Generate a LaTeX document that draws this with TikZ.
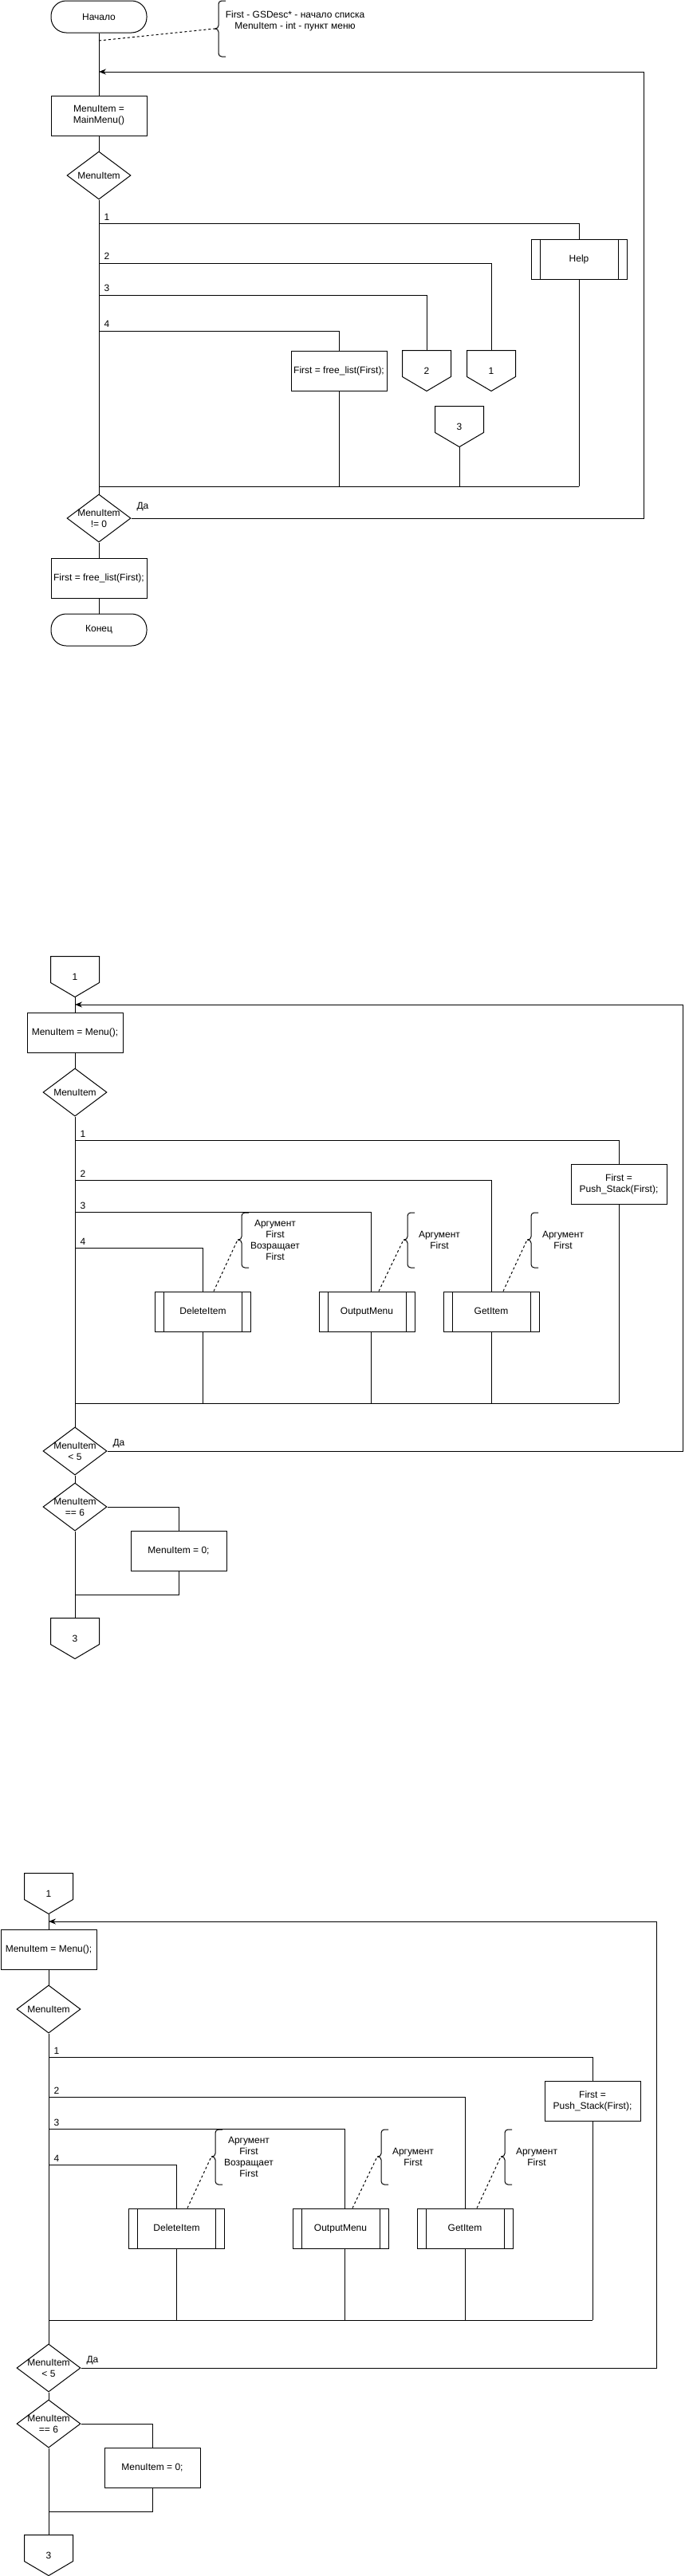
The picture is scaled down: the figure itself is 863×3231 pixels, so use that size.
\documentclass[tikz,border=0pt]{standalone}
\usepackage{fontspec}
\setmainfont{Liberation Sans}
\usetikzlibrary{calc}
\usetikzlibrary{arrows.meta}
\usetikzlibrary{shapes.geometric}

\tikzset{
  term/.style={draw, rectangle, rounded corners=19pt, minimum width=120pt, minimum height=40pt},
  proc/.style={draw, rectangle, minimum width=120pt, minimum height=50pt, inner sep=1pt, align=center},
  cond/.style={draw, diamond, aspect=1.333, minimum width=80pt, minimum height=60pt, inner sep=-8pt, align=center},
  subproc/.style={proc, text height=8.5pt, text depth=2.5pt, path picture={
      \draw ([xshift=11pt]path picture bounding box.north west) -- ([xshift=11pt]path picture bounding box.south west);
      \draw ([xshift=-11pt]path picture bounding box.north east) -- ([xshift=-11pt]path picture bounding box.south east);}},
  offpage/.style={rectangle, minimum width=60pt, minimum height=50pt, inner sep=0pt},
  notetext/.style={align=center, inner sep=0pt},
  lbl/.style={anchor=west, inner sep=0pt},
  arr/.style={-{Stealth[length=9pt,width=7pt]}},
  anno/.style={dash pattern=on 3pt off 3pt},
}
\newcommand{\offpagebox}[1]{\draw (#1.north west) -- (#1.north east) -- ([yshift=18pt]#1.south east) -- (#1.south) -- ([yshift=18pt]#1.south west) -- cycle;}
% spine x, top, bottom, middle
\newcommand{\annobrace}[4]{%
  \draw[rounded corners=4pt] ({#1+9},#2) -- (#1,#2) -- (#1,#4) -- ({#1-5},#4);
  \draw[rounded corners=4pt] ({#1+9},#3) -- (#1,#3) -- (#1,#4) -- ({#1-5},#4);}

\begin{document}
\begin{tikzpicture}[x=1pt, y=-1pt, line width=1pt, font=\fontsize{12}{14}\selectfont]
\useasboundingbox (0,0) rectangle (863,3231);

% main menu
\node[term] (start) at (124,21) {Начало};
\node[notetext] (vars) at (370,26) {First - GSDesc* - начало списка\\MenuItem - int - пункт меню};
\node[proc] (mm) at (124,145) {MenuItem =\\MainMenu()};
\node[cond] (sel) at (124,220) {MenuItem};
\node[subproc] (help) at (726,325) {Help};
\node[offpage] (p1) at (616,465) {1}; \offpagebox{p1}
\node[offpage] (p2) at (535,465) {2}; \offpagebox{p2}
\node[proc] (fl) at (425,465) {First = free\_list(First);};
\node[offpage] (p3) at (576,535) {3}; \offpagebox{p3}
\node[cond] (nz) at (124,650) {MenuItem\\!= 0};
\node[lbl] (yes0) at (171,636) {Да};
\node[proc] (fl2) at (124,725) {First = free\_list(First);};
\node[term] (fin) at (124,790) {Конец};
\node[lbl] (n1) at (130,272) {1};
\node[lbl] (n2) at (130,321) {2};
\node[lbl] (n3) at (130,361) {3};
\node[lbl] (n4) at (130,406) {4};

\coordinate (c1) at (124,280);
\coordinate (c2) at (124,330);
\coordinate (c3) at (124,370);
\coordinate (c4) at (124,415);
\coordinate (j0) at (124,610);
\coordinate (j1) at (726,610);
\coordinate (r0) at (807,90);
\coordinate (m0) at (124,90);
\coordinate (d0) at (124,51);
\coordinate (t0) at (269,36);

\draw (start) -- (mm);
\draw (mm) -- (sel);
\draw (sel) -- (nz);
\draw (nz) -- (fl2);
\draw (fl2) -- (fin);
\draw (c1) -| (help.north);
\draw (c2) -| (p1.north);
\draw (c3) -| (p2.north);
\draw (c4) -| (fl.north);
\draw (j0) -- (j1);
\draw (help.south) -- (j1);
\draw (fl.south) -- (fl.south |- j0);
\draw (p3.south) -- (p3.south |- j0);
\draw[arr] (nz.east) -| (r0) -- (m0);
\annobrace{274}{1}{71}{36}
\draw[anno] (d0) -- (t0);

% submenus
\foreach \ox/\oy/\s in {94/1200/a, 61/2350/b} {
\begin{scope}[shift={(\ox,\oy)}]
\node[offpage] (in\s) at (0,25) {1}; \offpagebox{in\s}
\node[proc] (menu\s) at (0,95) {MenuItem = Menu();};
\node[cond] (sw\s) at (0,170) {MenuItem};
\node[proc] (push\s) at (682,285) {First =\\Push\_Stack(First);};
\node[subproc] (del\s) at (160.5,445) {DeleteItem};
\node[subproc] (out\s) at (366,445) {OutputMenu};
\node[subproc] (get\s) at (522,445) {GetItem};
\node[notetext] (ad\s) at (251,355) {Аргумент\\First\\Возращает\\First};
\node[notetext] (ao\s) at (457,355) {Аргумент\\First};
\node[notetext] (ag\s) at (612,355) {Аргумент\\First};
\node[cond] (lt\s) at (0,620) {MenuItem\\< 5};
\node[lbl] (yes\s) at (47,611) {Да};
\node[cond] (eq\s) at (0,690) {MenuItem\\== 6};
\node[proc] (zero\s) at (130,745) {MenuItem = 0;};
\node[offpage] (ex\s) at (0,855) {3}; \offpagebox{ex\s}
\node[lbl] (k1l\s) at (6,222) {1};
\node[lbl] (k2l\s) at (6,272) {2};
\node[lbl] (k3l\s) at (6,312) {3};
\node[lbl] (k4l\s) at (6,357) {4};

\coordinate (k1\s) at (0,230);
\coordinate (k2\s) at (0,280);
\coordinate (k3\s) at (0,320);
\coordinate (k4\s) at (0,365);
\coordinate (q0\s) at (0,560);
\coordinate (q1\s) at (682,560);
\coordinate (r\s) at (762,60);
\coordinate (m\s) at (0,60);
\coordinate (z\s) at (0,800);
\coordinate (t1\s) at (204,355);
\coordinate (t2\s) at (412,355);
\coordinate (t3\s) at (567,355);

\draw (in\s.south) -- (menu\s);
\draw (menu\s) -- (sw\s);
\draw (sw\s) -- (lt\s);
\draw (lt\s) -- (eq\s);
\draw (eq\s.south) -- (ex\s.north);
\draw (k1\s) -| (push\s.north);
\draw (k2\s) -| (get\s.north);
\draw (k3\s) -| ([xshift=5pt]out\s.north);
\draw (k4\s) -| (del\s.north);
\draw (q0\s) -- (q1\s);
\draw (push\s.south) -- (q1\s);
\draw (del\s.south) -- (del\s.south |- q0\s);
\draw ([xshift=5pt]out\s.south) -- ([xshift=5pt]out\s.south |- q0\s);
\draw (get\s.south) -- (get\s.south |- q0\s);
\draw[arr] (lt\s.east) -| (r\s) -- (m\s);
\draw (eq\s.east) -| (zero\s.north);
\draw (zero\s.south) |- (z\s);
\annobrace{209}{321}{390}{355}
\annobrace{417}{321}{390}{355}
\annobrace{572}{321}{390}{355}
\draw[anno] ([xshift=13.5pt]del\s.north) -- (t1\s);
\draw[anno] ([xshift=15pt]out\s.north) -- (t2\s);
\draw[anno] ([xshift=15pt]get\s.north) -- (t3\s);
\end{scope}
}
\end{tikzpicture}
\end{document}
